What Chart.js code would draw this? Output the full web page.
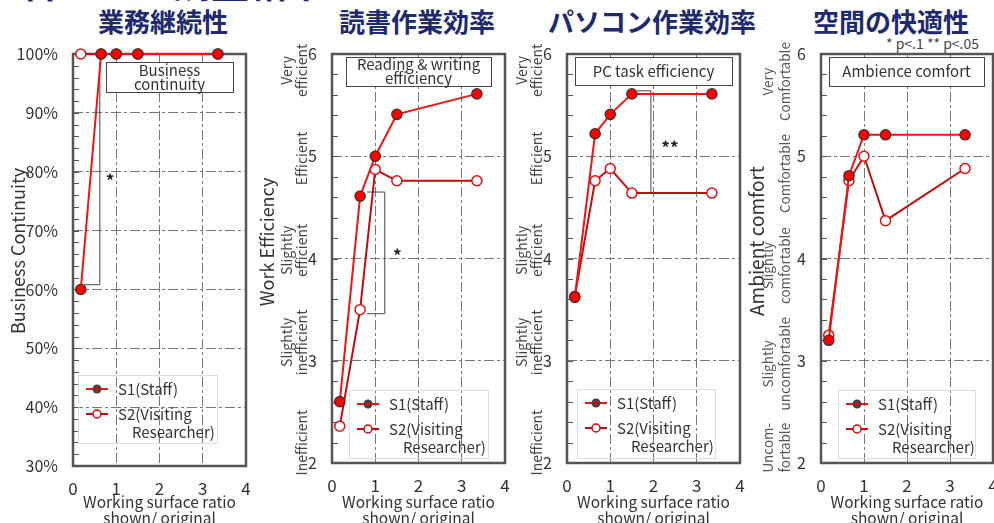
<!DOCTYPE html>
<html><head><meta charset="utf-8">
<script src="https://cdn.jsdelivr.net/npm/chart.js@4.4.1/dist/chart.umd.min.js"></script>
<style>
html,body{margin:0;padding:0;background:#fff;overflow:hidden;width:994px;height:523px;position:relative;}
canvas.c{position:absolute;left:0;top:0;}
.ttl{position:absolute;width:320px;text-align:center;font-family:"Noto Sans CJK JP",sans-serif;font-weight:bold;color:#202a70;font-size:26px;line-height:26px;white-space:nowrap;}
#top{position:absolute;left:-17px;top:-38px;height:46px;overflow:visible;font-family:"Noto Sans CJK JP",sans-serif;font-weight:bold;color:#202a70;font-size:38px;line-height:38px;white-space:nowrap;}
#sig{position:absolute;left:886px;top:35px;font-family:"Noto Sans CJK JP",sans-serif;font-size:14px;line-height:16px;color:#444;white-space:nowrap;}
</style></head><body>
<div id="top">に合わせる調査結果</div>
<div class="ttl" style="left:3px;top:8px">業務継続性</div>
<div class="ttl" style="left:257px;top:8px">読書作業効率</div>
<div class="ttl" style="left:492px;top:8px">パソコン作業効率</div>
<div class="ttl" style="left:731px;top:8px">空間の快適性</div>
<div id="sig">* p&lt;.1 ** p&lt;.05</div>
<canvas id="c1" class="c" width="1100" height="560" style="width:1100px;height:560px"></canvas>
<canvas id="c2" class="c" width="1100" height="560" style="width:1100px;height:560px"></canvas>
<canvas id="c3" class="c" width="1100" height="560" style="width:1100px;height:560px"></canvas>
<canvas id="c4" class="c" width="1100" height="560" style="width:1100px;height:560px"></canvas>
<script>
// ---- data ----
const xRatio = [0.18, 0.65, 1.0, 1.5, 3.35];
const contS1 = [60, 100, 100, 100, 100];
const contS2 = [100, 100, 100, 100, 100];
const readS1 = [2.6, 4.61, 5.0, 5.41, 5.61];
const readS2 = [2.36, 3.5, 4.87, 4.76, 4.76];
const pcS1 = [3.62, 5.22, 5.41, 5.61, 5.61];
const pcS2 = [3.63, 4.76, 4.88, 4.64, 4.64];
const ambS1 = [3.2, 4.81, 5.21, 5.21, 5.21];
const ambS2 = [3.25, 4.76, 5.0, 4.37, 4.88];
const xTicks = [0, 1, 2, 3, 4];
const pctTicks = [30, 40, 50, 60, 70, 80, 90, 100];
const scoreTicks = [2, 3, 4, 5, 6];
const effLabels = [["Very", "efficient"], ["Efficient"], ["Slightly", "efficient"], ["Slightly", "inefficient"], ["Inefficient"]];
const effLabelAt = [5.84, 4.98, 4.08, 3.18, 2.2];
const comfLabels = [["Very", "Comfortable"], ["Comfortable"], ["Slightly", "comfortable"], ["Slightly", "uncomfortable"], ["Uncom-", "fortable"]];
const comfLabelAt = [5.73, 4.83, 3.93, 2.97, 2.15];
const seriesNames = [["S1(Staff)"], ["S2(Visiting", "Researcher)"]];
const boxTexts = [["Business", "continuity"], ["Reading & writing", "efficiency"], ["PC task efficiency"], ["Ambience comfort"]];
const axisTitles = ["Business Continuity", "Work Efficiency", "", "Ambient comfort"];
const xTitle = ["Working surface ratio", "shown/ original"];

// ---- style / layout ----
const F = '"Noto Sans CJK JP","Noto Sans",sans-serif';
const CW = 1100, CH = 560, YW = 60;
const S1_LINE = 'rgb(240,20,20)', S2_LINE = 'rgb(195,12,12)';

const panels = [
  {id:'c1', L:73, R:246, B:466, yMin:30, yMax:100, minor:2, pct:true, s1:contS1, s2:contS2,
   box:{x1:106,x2:233,y1:62,y2:92,text:boxTexts[0]}, legend:{x1:78,x2:217,y1:375,y2:443},
   yTitle:{text:axisTitles[0], x:18, y:251, size:18},
   bracket:[[0.26,60.8],[0.62,60.8],[0.62,98.6]], star:{t:'*', x:0.76, y:79}},
  {id:'c2', L:332, R:505, B:463, yMin:2, yMax:6, minor:0.2, s1:readS1, s2:readS2,
   box:{x1:346,x2:491,y1:57,y2:86,text:boxTexts[1]}, legend:{x1:349,x2:488,y1:390,y2:458},
   yTitle:{text:axisTitles[1], x:267, y:242, size:18},
   cats:{labels:effLabels, at:effLabelAt, x:302, gap:15, size:14},
   bracket:[[0.81,4.65],[1.22,4.65],[1.22,3.46],[0.81,3.46]], star:{t:'*', x:1.41, y:4.06}},
  {id:'c3', L:567, R:740, B:463, yMin:2, yMax:6, minor:0.2, s1:pcS1, s2:pcS2,
   box:{x1:575,x2:732,y1:57,y2:85,text:boxTexts[2]}, legend:{x1:577,x2:715,y1:389,y2:458},
   cats:{labels:effLabels, at:effLabelAt, x:537, gap:15, size:14},
   bracket:[[1.62,5.64],[1.94,5.64],[1.94,4.64],[1.62,4.64]], star:{t:'**', x:2.18, y:5.11}},
  {id:'c4', L:821, R:993, B:463, yMin:2, yMax:6, minor:0.2, s1:ambS1, s2:ambS2,
   box:{x1:829,x2:984,y1:57,y2:86,text:boxTexts[3]}, legend:{x1:838,x2:975,y1:390,y2:458},
   yTitle:{text:axisTitles[3], x:757, y:241, size:19},
   cats:{labels:comfLabels, at:comfLabelAt, x:785, gap:17, size:13.5, color:'#555'}}
];

function drawRot(ctx, lines, x, y, gap){
  ctx.save(); ctx.translate(x, y); ctx.rotate(-Math.PI/2);
  ctx.textAlign='center'; ctx.textBaseline='middle';
  const n = lines.length;
  lines.forEach((ln,i)=>ctx.fillText(ln, 0, (i-(n-1))*gap));
  ctx.restore();
}

function makeDeco(P){
  return {
    id:'deco'+P.id,
    beforeDatasetsDraw(chart){
      const {ctx, chartArea:a, scales:{x,y}} = chart;
      ctx.save();
      ctx.strokeStyle='#555'; ctx.lineWidth=1;
      const n = Math.round((P.yMax-P.yMin)/P.minor);
      for(let i=0;i<=n;i++){
        const py = Math.round(y.getPixelForValue(P.yMin+i*P.minor))+0.5;
        ctx.beginPath(); ctx.moveTo(a.left, py); ctx.lineTo(a.left+6, py); ctx.stroke();
      }
      ctx.strokeStyle='#555'; ctx.lineWidth=2.5;
      ctx.strokeRect(a.left, a.top, a.right-a.left, a.bottom-a.top);
      if(P.bracket){
        ctx.strokeStyle='#444'; ctx.lineWidth=1; ctx.beginPath();
        P.bracket.forEach((pt,i)=>{const px=x.getPixelForValue(pt[0]), py=y.getPixelForValue(pt[1]); if(i) ctx.lineTo(px,py); else ctx.moveTo(px,py);});
        ctx.stroke();
      }
      if(P.star){
        ctx.fillStyle='#222'; ctx.font='bold 17px '+F; ctx.textAlign='left'; ctx.textBaseline='middle';
        ctx.fillText(P.star.t, x.getPixelForValue(P.star.x), y.getPixelForValue(P.star.y)+3);
      }
      const b = P.box;
      ctx.fillStyle='#fff'; ctx.fillRect(b.x1,b.y1,b.x2-b.x1,b.y2-b.y1);
      ctx.strokeStyle='#444'; ctx.lineWidth=1;
      ctx.strokeRect(b.x1+0.5,b.y1+0.5,b.x2-b.x1,b.y2-b.y1);
      ctx.fillStyle='#333'; ctx.font='15px '+F; ctx.textAlign='center'; ctx.textBaseline='middle';
      const cy=(b.y1+b.y2)/2, nl=b.text.length;
      b.text.forEach((t,i)=>ctx.fillText(t,(b.x1+b.x2)/2, cy+(i-(nl-1)/2)*14));
      ctx.restore();
    },
    afterDraw(chart){
      const {ctx, scales:{y}} = chart;
      ctx.save();
      const lg = P.legend;
      ctx.strokeStyle='#ddd'; ctx.lineWidth=1;
      ctx.strokeRect(lg.x1+0.5, lg.y1+0.5, lg.x2-lg.x1, lg.y2-lg.y1);
      const rows=[lg.y1+14, lg.y1+39];
      ctx.strokeStyle=S1_LINE; ctx.lineWidth=2;
      ctx.beginPath(); ctx.moveTo(lg.x1+8, rows[0]); ctx.lineTo(lg.x1+30, rows[0]); ctx.stroke();
      ctx.beginPath(); ctx.arc(lg.x1+19, rows[0], 4.5, 0, Math.PI*2); ctx.fillStyle='#444'; ctx.fill();
      ctx.beginPath(); ctx.arc(lg.x1+19, rows[0], 2, 0, Math.PI*2); ctx.fillStyle='#e00'; ctx.fill();
      ctx.strokeStyle=S2_LINE; ctx.lineWidth=2;
      ctx.beginPath(); ctx.moveTo(lg.x1+8, rows[1]); ctx.lineTo(lg.x1+30, rows[1]); ctx.stroke();
      ctx.beginPath(); ctx.arc(lg.x1+19, rows[1], 4, 0, Math.PI*2); ctx.fillStyle='#fff'; ctx.fill();
      ctx.strokeStyle='#d00'; ctx.lineWidth=1.5; ctx.stroke();
      ctx.fillStyle='#333'; ctx.font='15px '+F; ctx.textAlign='left'; ctx.textBaseline='middle';
      ctx.fillText(seriesNames[0][0], lg.x1+40, rows[0]);
      ctx.fillText(seriesNames[1][0], lg.x1+40, rows[1]);
      ctx.fillText(seriesNames[1][1], lg.x1+54, lg.y1+57);
      if(P.yTitle && P.yTitle.text){
        ctx.fillStyle='#333'; ctx.font=P.yTitle.size+'px '+F;
        drawRot(ctx,[P.yTitle.text],P.yTitle.x,P.yTitle.y,0);
      }
      if(P.cats){
        ctx.fillStyle=P.cats.color||'#444'; ctx.font=P.cats.size+'px '+F;
        P.cats.labels.forEach((lines,i)=>drawRot(ctx, lines, P.cats.x, y.getPixelForValue(P.cats.at[i]), P.cats.gap));
      }
      ctx.restore();
    }
  };
}

function gridColor(min,max){
  return c => (c.tick && (Math.abs(c.tick.value-min)<1e-9 || Math.abs(c.tick.value-max)<1e-9)) ? 'rgba(0,0,0,0)' : '#777';
}

panels.forEach(P=>{
  const mk = vals => vals.map((v,i)=>({x:xRatio[i], y:v}));
  const yT = P.pct ? pctTicks : scoreTicks;
  new Chart(document.getElementById(P.id), {
    type:'line',
    data:{datasets:[
      {label:seriesNames[0][0], data:mk(P.s1), borderColor:S1_LINE, backgroundColor:'#f00',
       pointBackgroundColor:'#f00', pointBorderColor:'#333', pointBorderWidth:1.2, pointRadius:5.2,
       borderWidth:2, tension:0, clip:false, fill:false},
      {label:seriesNames[1].join(' '), data:mk(P.s2), borderColor:S2_LINE, backgroundColor:'#fff',
       pointBackgroundColor:'#fff', pointBorderColor:'#e01010', pointBorderWidth:1.5, pointRadius:5,
       borderWidth:2, tension:0, clip:false, fill:false}
    ]},
    options:{
      responsive:false, animation:false, devicePixelRatio:1,
      layout:{padding:{left:P.L-YW, right:CW-P.R, top:54, bottom:CH-526}},
      plugins:{legend:{display:false}, tooltip:{enabled:false}},
      scales:{
        x:{type:'linear', min:0, max:4,
          afterBuildTicks:s=>{s.ticks = xTicks.map(v=>({value:v}));},
          afterFit:s=>{s.height = 526-P.B;},
          ticks:{color:'#333', font:{family:F, size:17}, padding:12, maxRotation:0},
          grid:{drawTicks:false, color:gridColor(0,4), lineWidth:1},
          border:{display:false, dash:[10,3,3,3]},
          title:{display:true, text:xTitle, color:'#333', font:{family:F, size:15.5, lineHeight:1.03}, padding:{top:0,bottom:0}}
        },
        y:{type:'linear', min:P.yMin, max:P.yMax,
          afterBuildTicks:s=>{s.ticks = yT.map(v=>({value:v}));},
          afterFit:s=>{s.width = YW;},
          ticks:{color:'#333', font:{family:F, size:16}, padding:15,
            callback:v=>P.pct ? v+'%' : String(v)},
          grid:{drawTicks:false, color:gridColor(P.yMin,P.yMax), lineWidth:1},
          border:{display:false, dash:[10,3,3,3]}
        }
      }
    },
    plugins:[makeDeco(P)]
  });
});
</script>
</body></html>
